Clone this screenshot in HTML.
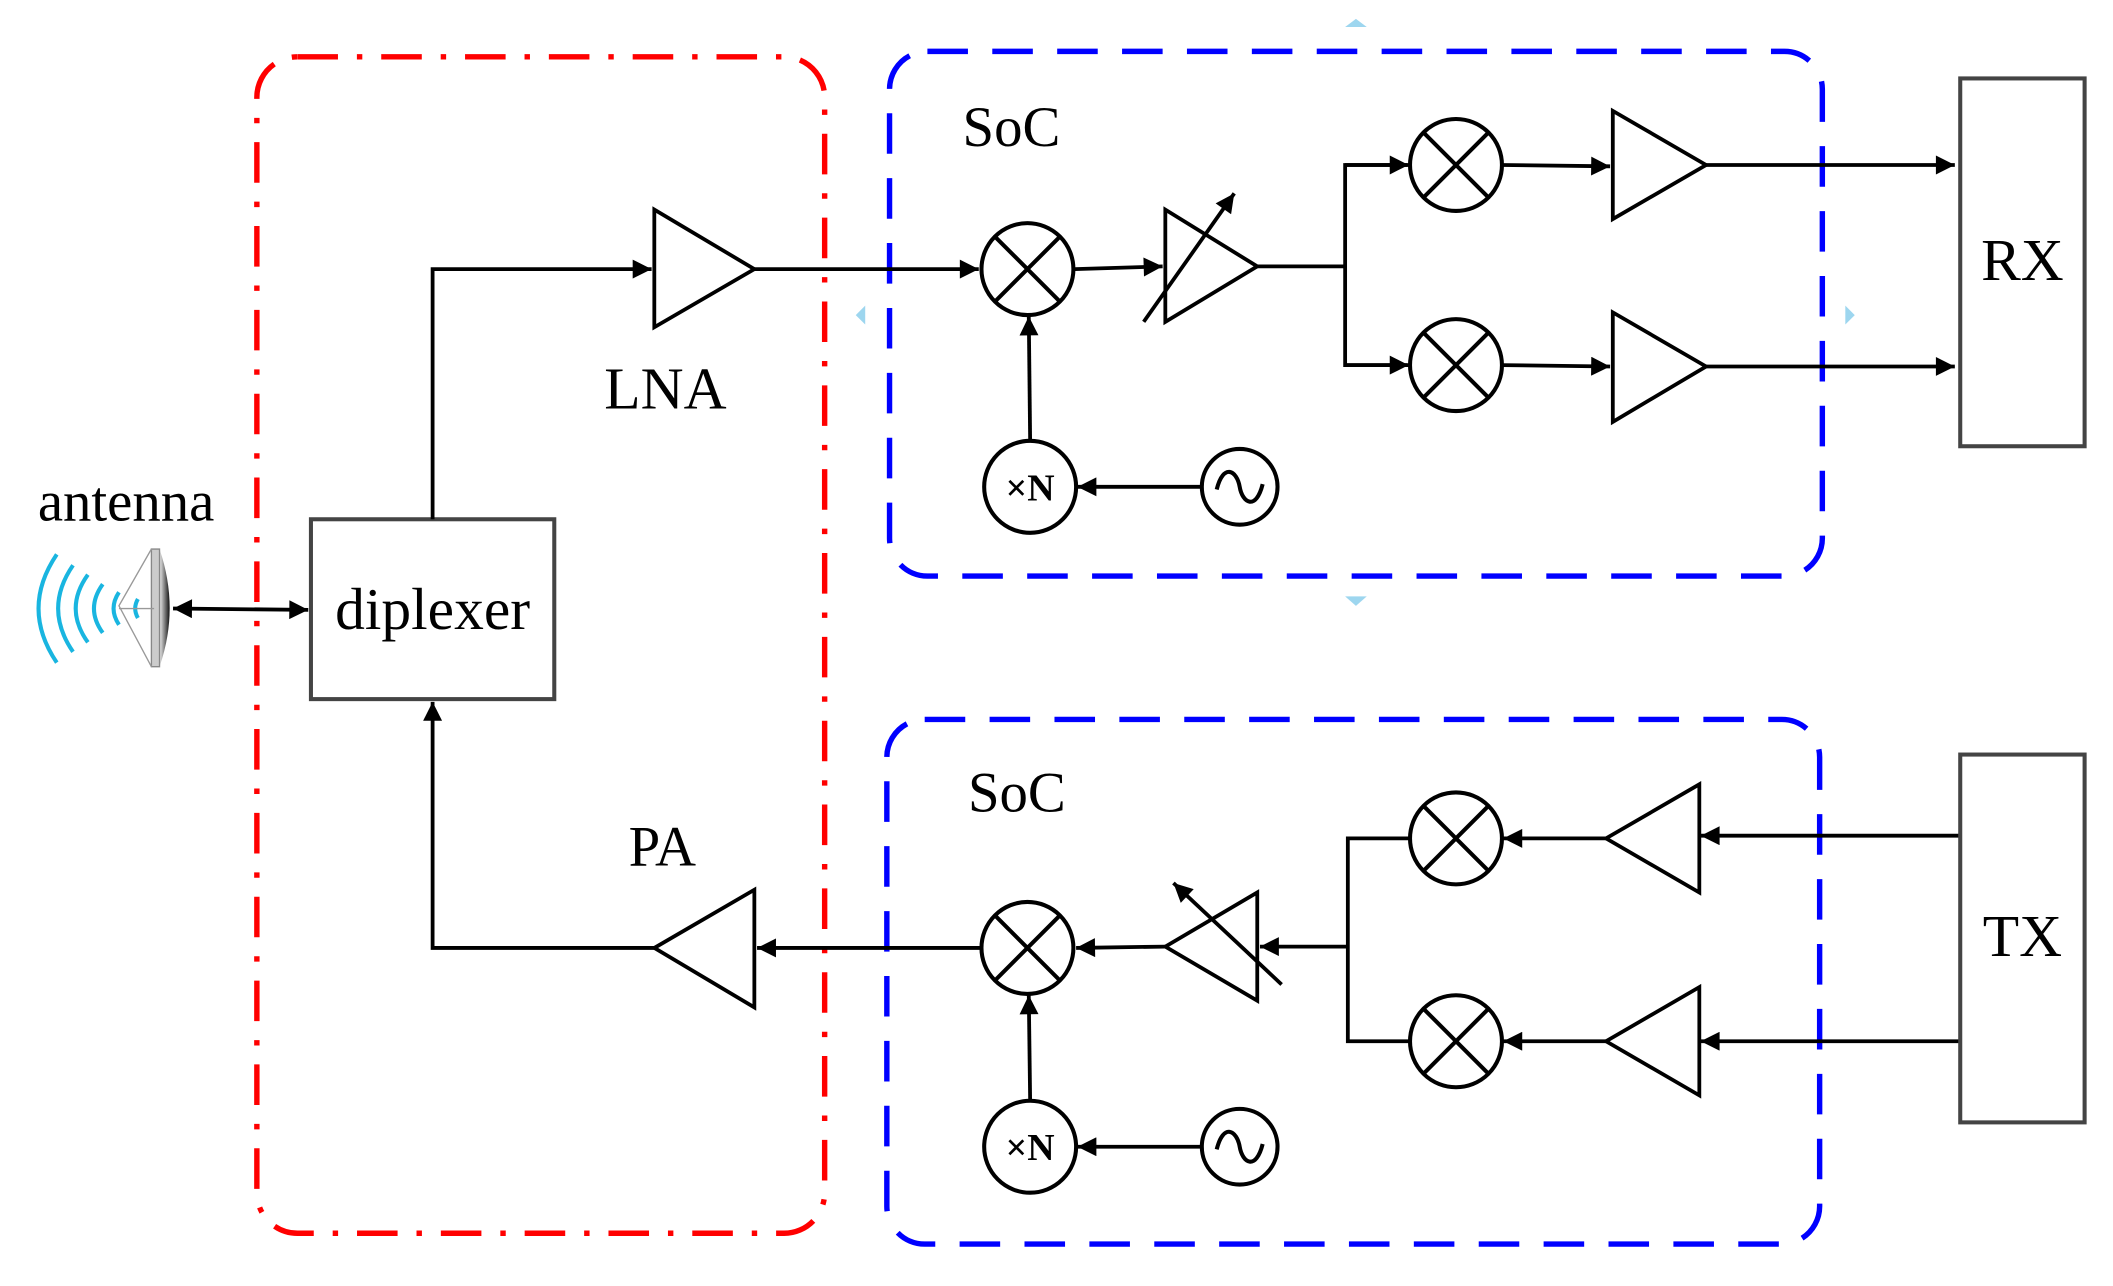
<!DOCTYPE html>
<html><head><meta charset="utf-8"><style>html,body{margin:0;padding:0;background:#fff}svg{display:block}</style></head><body>
<svg width="2113" height="1286" viewBox="0 0 1563 951" preserveAspectRatio="none" xmlns="http://www.w3.org/2000/svg" font-family="Liberation Serif, serif">
<defs>
<marker id="m" viewBox="0 0 10 10" refX="10" refY="5" markerWidth="20" markerHeight="14" markerUnits="userSpaceOnUse" orient="auto-start-reverse"><path d="M0,0L10,5L0,10z" fill="#000"/></marker>
<linearGradient id="g" x1="0" x2="1"><stop offset="0" stop-color="#eee"/><stop offset="1" stop-color="#111"/></linearGradient>
</defs>
<rect x="190" y="42" width="420" height="870" rx="30" fill="none" stroke="#f00" stroke-width="4" stroke-dasharray="30 14 4 14"/>
<rect x="658" y="38" width="690" height="388" rx="28" fill="none" stroke="#00f" stroke-width="4" stroke-dasharray="30 18"/>
<rect x="656" y="532" width="690" height="388" rx="28" fill="none" stroke="#00f" stroke-width="4" stroke-dasharray="30 18"/>
<g fill="none" stroke="#19b5e0" stroke-width="3">
<path d="M42,410 Q15,450 42,490"/><path d="M54,418 Q32,450 54,482"/><path d="M65,425 Q47,450 65,475"/><path d="M76,432 Q63,450 76,468"/><path d="M88,438 Q80,450 88,462"/><path d="M102,443 Q98,450 102,457"/>
</g>
<path d="M118,406 Q133,450 118,493 Z" fill="url(#g)"/>
<path d="M112,406 L118,406 L118,493 L112,493 Z" fill="#ccc" stroke="#888" stroke-width="1"/>
<path d="M112,406 L88,448 L112,493 M88,450 L114,450" stroke="#999" stroke-width="1" fill="none"/>
<text x="28" y="385" font-size="42">antenna</text>
<g stroke="#000" stroke-width="2.8" fill="none">
<line x1="128" y1="450" x2="228" y2="451" marker-end="url(#m)" marker-start="url(#m)"/>
<rect x="230" y="384" width="180" height="133" stroke="#444" stroke-width="3"/>
<polyline points="320,384 320,199 482,199" marker-end="url(#m)"/>
<polygon points="484,155 484,242 558,199"/>
<line x1="558" y1="199" x2="724" y2="199" marker-end="url(#m)"/>
<circle cx="760" cy="199" r="34" stroke-width="3"/><path d="M736,175L784,223M784,175L736,223" stroke-width="3"/>
<line x1="795" y1="199" x2="860" y2="197" marker-end="url(#m)"/>
<polygon points="862,155 862,238 930,197"/>
<line x1="846" y1="238" x2="913" y2="143" marker-end="url(#m)"/>
<polyline points="930,197 995,197"/>
<polyline points="1041,122 995,122 995,270 1041,270" />
<line x1="995" y1="122" x2="1042" y2="122" marker-end="url(#m)"/>
<line x1="995" y1="270" x2="1042" y2="270" marker-end="url(#m)"/>
<circle cx="1077" cy="122" r="34" stroke-width="3"/><path d="M1053,98L1101,146M1101,98L1053,146" stroke-width="3"/>
<circle cx="1077" cy="270" r="34" stroke-width="3"/><path d="M1053,246L1101,294M1101,246L1053,294" stroke-width="3"/>
<line x1="1111" y1="122" x2="1191" y2="123" marker-end="url(#m)"/>
<line x1="1111" y1="270" x2="1191" y2="271" marker-end="url(#m)"/>
<polygon points="1193,82 1193,162 1262,122"/><polygon points="1193,231 1193,312 1262,271"/>
<line x1="1262" y1="122" x2="1446" y2="122" marker-end="url(#m)"/>
<line x1="1262" y1="271" x2="1446" y2="271" marker-end="url(#m)"/>
<rect x="1450" y="58" width="92" height="272" stroke="#444" stroke-width="3"/>
<circle cx="762" cy="360" r="34" stroke-width="3"/>
<line x1="762" y1="326" x2="761" y2="234" marker-end="url(#m)"/>
<circle cx="917" cy="360" r="28" stroke-width="3"/><path d="M900,362 C905,342 915,348 917,360 C919,372 929,378 934,358" stroke-width="3"/>
<line x1="889" y1="360" x2="797" y2="360" marker-end="url(#m)"/>

<polygon points="558,658 558,745 484,701"/>
<polyline points="484,701 320,701 320,519" marker-end="url(#m)"/>
<line x1="725" y1="701" x2="560" y2="701" marker-end="url(#m)"/>
<circle cx="760" cy="701" r="34" stroke-width="3"/><path d="M736,677L784,725M784,677L736,725" stroke-width="3"/>
<line x1="862" y1="700" x2="796" y2="701" marker-end="url(#m)"/>
<polygon points="930,660 930,740 862,700"/>
<line x1="948" y1="728" x2="868" y2="653" marker-end="url(#m)"/>
<line x1="997" y1="700" x2="932" y2="700" marker-end="url(#m)"/>
<polyline points="1043,620 997,620 997,770 1043,770"/>
<circle cx="1077" cy="620" r="34" stroke-width="3"/><path d="M1053,596L1101,644M1101,596L1053,644" stroke-width="3"/>
<circle cx="1077" cy="770" r="34" stroke-width="3"/><path d="M1053,746L1101,794M1101,746L1053,794" stroke-width="3"/>
<polygon points="1257,580 1257,660 1188,620"/><polygon points="1257,730 1257,810 1188,770"/>
<line x1="1188" y1="620" x2="1112" y2="620" marker-end="url(#m)"/>
<line x1="1188" y1="770" x2="1112" y2="770" marker-end="url(#m)"/>
<line x1="1450" y1="618" x2="1258" y2="618" marker-end="url(#m)"/>
<line x1="1450" y1="770" x2="1258" y2="770" marker-end="url(#m)"/>
<rect x="1450" y="558" width="92" height="272" stroke="#444" stroke-width="3"/>
<circle cx="762" cy="848" r="34" stroke-width="3"/>
<line x1="762" y1="814" x2="761" y2="736" marker-end="url(#m)"/>
<circle cx="917" cy="848" r="28" stroke-width="3"/><path d="M900,850 C905,830 915,836 917,848 C919,860 929,866 934,846" stroke-width="3"/>
<line x1="889" y1="848" x2="797" y2="848" marker-end="url(#m)"/>
</g>
<text x="320" y="465" font-size="44" text-anchor="middle">diplexer</text>
<text x="447" y="302" font-size="44">LNA</text>
<text x="465" y="640" font-size="42">PA</text>
<text x="712" y="108" font-size="42">SoC</text>
<text x="716" y="600" font-size="42">SoC</text>
<text x="1496" y="207" font-size="44" text-anchor="middle">RX</text>
<text x="1496" y="707" font-size="44" text-anchor="middle">TX</text>
<text x="762" y="370" font-size="28" font-weight="bold" text-anchor="middle">×N</text>
<text x="762" y="858" font-size="28" font-weight="bold" text-anchor="middle">×N</text>
<g fill="#9dd6ef"><path d="M995,20L1011,20L1003,14z"/><path d="M995,441L1011,441L1003,448z"/><path d="M640,226L640,240L633,233z"/><path d="M1365,226L1365,240L1372,233z"/></g>
</svg>
</body></html>
